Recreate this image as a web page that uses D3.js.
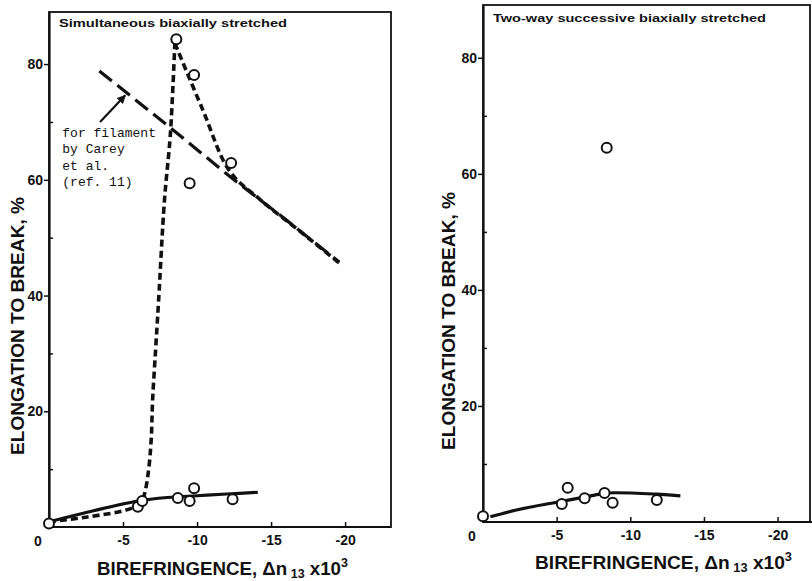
<!DOCTYPE html>
<html>
<head>
    <title>Elongation to break vs birefringence</title>
    <script src="https://d3js.org/d3.v7.min.js"></script>
    <style>
        body { margin: 0; background: #ffffff; }
        svg text { fill: #111; }
        .tick text { font-family: 'Liberation Sans', Arial, sans-serif; font-weight: bold; font-size: 14px; }
    </style>
</head>
<body>
    <div id="chart"></div>

    <script>
        // ---- data ----
        const xTicks = [-5, -10, -15, -20];
        const yTicks = [20, 40, 60, 80];
        const yMinorTicks = [10, 30, 50, 70];

        // simultaneous biaxially stretched (left panel)
        const simPoints = [[0, 0.6], [-6.0, 3.5], [-6.3, 4.5], [-8.7, 5.0], [-9.5, 4.5], [-9.8, 6.7],
                           [-12.4, 4.8], [-8.6, 84.3], [-9.8, 78.1], [-9.5, 59.4], [-12.3, 62.9]];
        const simSolid = [[0, 0.9], [-3, 2.8], [-6, 4.5], [-8, 5.1], [-10, 5.4], [-12, 5.7], [-14.1, 6.0]];
        const simDashRise = [[0, 0.9], [-2.5, 1.7], [-5.3, 3.0], [-6.1, 4.0], [-6.4, 5.3], [-6.7, 9.3],
                             [-6.9, 15], [-7.0, 22], [-7.2, 30.6], [-7.4, 39], [-7.8, 56.5], [-8.2, 68], [-8.5, 83.6]];
        const simDashFall = [[-8.5, 83.6], [-10.4, 72], [-12.2, 61.5], [-14.3, 56.5], [-17, 51], [-19.8, 45.2]];
        const careyLine = [[-3.4, 78.8], [-8.2, 69], [-12.2, 60.6], [-15.6, 53.9], [-19.6, 45.8]];
        const careyNote = ['for filament', 'by Carey', 'et al.', '(ref. 11)'];
        const careyArrow = [[-3.45, 70.0], [-5.15, 74.6]];
        const careyNoteAt = [-0.9, 67.4];

        // two-way successive biaxially stretched (right panel)
        const twoWayPoints = [[0, 1.0], [-5.35, 3.1], [-5.75, 5.9], [-6.9, 4.1], [-8.25, 5.0], [-8.8, 3.3],
                              [-11.8, 3.8], [-8.4, 64.5]];
        const twoWayLine = [[-0.5, 0.9], [-2.5, 2.2], [-5, 3.4], [-7.5, 4.6], [-8.4, 5.0], [-11.8, 4.8], [-13.4, 4.5]];

        const width = 812, height = 581;
        const ink = '#111';

        const svg = d3.select('#chart').append('svg')
            .attr('width', width)
            .attr('height', height);

        svg.append('defs').append('marker')
            .attr('id', 'arrow')
            .attr('viewBox', '0 0 10 10')
            .attr('refX', 9).attr('refY', 5)
            .attr('markerWidth', 4).attr('markerHeight', 4)
            .attr('orient', 'auto')
            .append('path')
            .attr('d', 'M0,0 L10,5 L0,10 z')
            .attr('fill', ink);

        function drawPanel(opt) {
            const x = d3.scaleLinear().domain([0, opt.xMax]).range(opt.xRange);
            const y = d3.scaleLinear().domain([0, opt.yMax]).range(opt.yRange);
            const g = svg.append('g');

            // frame
            g.append('rect')
                .attr('x', opt.xRange[0]).attr('y', opt.yRange[1])
                .attr('width', opt.xRange[1] - opt.xRange[0])
                .attr('height', opt.yRange[0] - opt.yRange[1])
                .attr('fill', 'none').attr('stroke', ink).attr('stroke-width', 1.8);

            // y axis, major ticks outside, minor inside
            const yAxis = g.append('g')
                .attr('transform', `translate(${opt.xRange[0]},0)`)
                .call(d3.axisLeft(y).tickValues(yTicks).tickSizeInner(5).tickSizeOuter(0).tickPadding(1)
                    .tickFormat(d => String(d)));
            yAxis.select('.domain').attr('stroke-width', 2.2);
            g.append('g')
                .attr('transform', `translate(${opt.xRange[0]},0)`)
                .call(d3.axisRight(y).tickValues(yMinorTicks).tickSizeInner(4).tickSizeOuter(0).tickFormat(''))
                .select('.domain').remove();

            // x axis, ticks pointing up
            const xAxis = g.append('g')
                .attr('transform', `translate(0,${opt.yRange[0]})`)
                .call(d3.axisBottom(x).tickValues(xTicks).tickSizeInner(-5).tickSizeOuter(0).tickPadding(8)
                    .tickFormat(d => String(d)));
            xAxis.select('.domain').attr('stroke-width', 2.2)
                .attr('d', `M${opt.xRange[0]},0H${opt.xAxisEnd}`);
            g.selectAll('.tick line').attr('stroke', ink).attr('stroke-width', 1.5);
            g.selectAll('.domain').attr('stroke', ink);

            g.append('text')
                .attr('x', opt.xRange[0] - 11).attr('y', opt.yRange[0] + 19)
                .attr('text-anchor', 'middle')
                .style('font-family', "'Liberation Sans', Arial, sans-serif")
                .style('font-weight', 'bold').style('font-size', '14px')
                .text('0');

            // panel title
            g.append('text')
                .attr('x', opt.xRange[0] + 10).attr('y', opt.titleY)
                .attr('textLength', opt.titleLen).attr('lengthAdjust', 'spacingAndGlyphs')
                .style('font-family', "'Liberation Sans', Arial, sans-serif")
                .style('font-weight', 'bold').style('font-size', '11px')
                .text(opt.title);

            // axis titles
            const xt = g.append('text')
                .attr('x', opt.xTitle[0]).attr('y', opt.xTitle[1])
                .attr('textLength', opt.xTitleLen).attr('lengthAdjust', 'spacingAndGlyphs')
                .style('font-family', "'Liberation Sans', Arial, sans-serif")
                .style('font-weight', 'bold').style('font-size', '18px');
            xt.append('tspan').text('BIREFRINGENCE, ');
            xt.append('tspan').text('Δn');
            xt.append('tspan').attr('dy', 3).style('font-size', '12px').text(' 13');
            xt.append('tspan').attr('dy', -3).text(' x10');
            xt.append('tspan').attr('dy', -8).style('font-size', '12px').text('3');

            g.append('text')
                .attr('transform', `translate(${opt.yTitle[0]},${opt.yTitle[1]}) rotate(-90)`)
                .attr('text-anchor', 'middle')
                .attr('textLength', 258).attr('lengthAdjust', 'spacingAndGlyphs')
                .style('font-family', "'Liberation Sans', Arial, sans-serif")
                .style('font-weight', 'bold').style('font-size', '19px')
                .text('ELONGATION TO BREAK, %');

            return { g, x, y };
        }

        function curve(g, x, y, pts, dash, w, c) {
            g.append('path')
                .datum(pts)
                .attr('d', d3.line().x(d => x(d[0])).y(d => y(d[1])).curve(c || d3.curveCatmullRom.alpha(0.5)))
                .attr('fill', 'none')
                .attr('stroke', ink)
                .attr('stroke-width', w)
                .attr('stroke-dasharray', dash);
        }

        function circles(g, x, y, pts) {
            g.append('g').selectAll('circle')
                .data(pts)
                .enter().append('circle')
                .attr('cx', d => x(d[0]))
                .attr('cy', d => y(d[1]))
                .attr('r', 5)
                .attr('fill', '#fff')
                .attr('stroke', ink)
                .attr('stroke-width', 2);
        }

        // ---- left panel ----
        const L = drawPanel({
            xMax: -23.1, xRange: [49, 391], xAxisEnd: 391,
            yMax: 89, yRange: [527, 12],
            title: 'Simultaneous biaxially stretched', titleY: 27, titleLen: 228,
            xTitle: [97, 575], xTitleLen: 251,
            yTitle: [24, 326]
        });
        curve(L.g, L.x, L.y, careyLine, '16,7', 3.2, d3.curveLinear);
        curve(L.g, L.x, L.y, simDashRise, '7,4', 3.6);
        curve(L.g, L.x, L.y, simDashFall, '7,4', 3.6);
        curve(L.g, L.x, L.y, simSolid, null, 3.2);
        circles(L.g, L.x, L.y, simPoints);

        L.g.append('line')
            .attr('x1', L.x(careyArrow[0][0])).attr('y1', L.y(careyArrow[0][1]))
            .attr('x2', L.x(careyArrow[1][0])).attr('y2', L.y(careyArrow[1][1]))
            .attr('stroke', ink).attr('stroke-width', 2.2)
            .attr('marker-end', 'url(#arrow)');

        L.g.append('g').selectAll('text')
            .data(careyNote)
            .enter().append('text')
            .attr('x', L.x(careyNoteAt[0]))
            .attr('y', (d, i) => L.y(careyNoteAt[1]) + i * 16.5)
            .style('font-family', "'Liberation Mono', 'Courier New', monospace")
            .style('font-size', '13px')
            .text(d => d);

        // ---- right panel ----
        const R = drawPanel({
            xMax: -22.2, xRange: [483, 810], xAxisEnd: 812,
            yMax: 89.1, yRange: [522, 5],
            title: 'Two-way successive biaxially stretched', titleY: 22, titleLen: 273,
            xTitle: [535, 569], xTitleLen: 257,
            yTitle: [455, 321]
        });
        curve(R.g, R.x, R.y, twoWayLine, null, 3.2);
        circles(R.g, R.x, R.y, twoWayPoints);
    </script>
</body>
</html>
